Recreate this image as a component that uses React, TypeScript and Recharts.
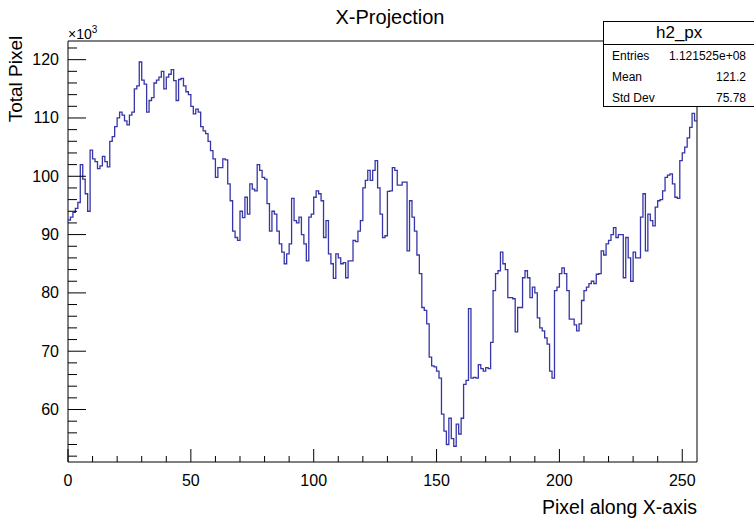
import React from "react";
import { LineChart, Line, XAxis, YAxis, ReferenceArea } from "recharts";

// bin contents of h2_px, in units of 10^3 (one value per pixel column 0..255)
const binValues = [
  92.5, 93, 93.8, 94.5, 95.5, 102, 99.5, 97, 94, 104.5,
  103, 102.5, 101.3, 101.8, 103.4, 102.5, 101.6, 106, 106.8, 108.5,
  110, 111, 110.5, 109.5, 108.8, 110.5, 111, 115, 115.5, 119.6,
  116.5, 115.8, 111, 113, 113.5, 116, 116.5, 117, 118, 115,
  117, 117.5, 118.3, 116.4, 113, 116.6, 116.8, 115.5, 114.5, 114,
  112, 110.7, 111.5, 111, 108.5, 107.8, 107.3, 106, 104.4, 103,
  99.8, 101.5, 101.5, 103, 102.8, 98.7, 95.8, 90.6, 89.5, 89,
  94, 92.9, 96.4, 93.5, 98.7, 97.8, 97.5, 102, 101, 99.8,
  99.5, 95.3, 90.6, 94, 93.5, 90.6, 88.4, 87, 85, 86.7,
  88.4, 96.2, 92.4, 92, 93, 90, 88.4, 85.5, 93, 93.5,
  96.4, 97.5, 97, 95.8, 89.5, 92.4, 86.7, 85, 82.5, 86.7,
  86, 85, 85.2, 82.6, 85.5, 85.5, 89, 88.8, 90.6, 92.4,
  98, 99.3, 101, 99.3, 101, 102.7, 98, 93.5, 89.5, 89.8,
  97.4, 97.5, 101.5, 101, 98.5, 98.5, 99, 99, 87.2, 95.8,
  93, 90.6, 86.5, 83.3, 77.5, 77, 74.7, 69, 67.5, 67.3,
  66.6, 65.4, 59.2, 56.3, 54, 58.5, 55, 53.7, 57.5, 55.8,
  58.5, 64.3, 65, 77.3, 65.4, 65.5, 65.4, 67.7, 67, 66.6,
  67.2, 67, 71.5, 80.4, 83.3, 83.8, 87, 85, 84, 79.2,
  79.2, 79, 73.3, 77.5, 77.5, 82.6, 83.8, 82.6, 79.2, 81,
  80, 75.7, 74, 73.5, 72.3, 71.2, 66.6, 65.4, 80.4, 81,
  83.3, 84.3, 83.3, 80.4, 75.5, 75.5, 74.5, 73.5, 74.7, 78.7,
  80.4, 81, 81.6, 82, 81.6, 83.2, 83.3, 87.2, 86.5, 88.4,
  89, 90, 91.2, 89.5, 90, 90, 82.6, 89.5, 86, 82,
  87, 86, 86, 93, 97, 87.2, 93.5, 92.4, 91.5, 94.7,
  95.8, 96, 97.5, 99.8, 100.2, 100.4, 98.7, 96.4, 96.2, 102.7,
  104, 105, 106.6, 108.4, 110.8, 109.5,
];

const xTicks = [0, 10, 20, 30, 40, 50, 60, 70, 80, 90, 100, 110, 120, 130, 140, 150, 160, 170, 180, 190, 200, 210, 220, 230, 240, 250];
const yTicks = [52, 54, 56, 58, 60, 62, 64, 66, 68, 70, 72, 74, 76, 78, 80, 82, 84, 86, 88, 90, 92, 94, 96, 98, 100, 102, 104, 106, 108, 110, 112, 114, 116, 118, 120, 122];

const statsRows = [
  ["Entries", "1.121525e+08"],
  ["Mean", "121.2"],
  ["Std Dev", "75.78"],
];

const X_MIN = 0;
const X_MAX = 256;
const Y_MIN = 51;
const Y_MAX = 123.2;

const FONT = "'Liberation Sans', Arial, sans-serif";
const LINE_COLOR = "#3636a8";

// histogram drawn as steps: each bin starts at its low edge, last point closes the final bin
const chartData = [
  ...binValues.map((v, i) => ({ x: i, v })),
  { x: binValues.length, v: binValues[binValues.length - 1] },
];

const YTick = (props: any) => {
  const { x, y, payload } = props;
  const major = payload.value % 10 === 0;
  return (
    <g>
      <line x1={x} x2={x + (major ? 18 : 9)} y1={y} y2={y} stroke="#000" />
      {major && (
        <text x={x - 9} y={y} dy={5.5} textAnchor="end" fontSize={16} fontFamily={FONT} fill="#000">
          {payload.value}
        </text>
      )}
    </g>
  );
};

const XTick = (props: any) => {
  const { x, y, payload } = props;
  const major = payload.value % 50 === 0;
  return (
    <g>
      <line x1={x} x2={x} y1={y} y2={y - (major ? 13 : 6)} stroke="#000" />
      {major && (
        <text x={x} y={y + 24} textAnchor="middle" fontSize={16} fontFamily={FONT} fill="#000">
          {payload.value}
        </text>
      )}
    </g>
  );
};

export default function App() {
  return (
    <div style={{ position: "absolute", left: 0, top: 0, width: 754, height: 522, background: "#fff", fontFamily: FONT, overflow: "hidden" }}>
      <LineChart width={754} height={522} data={chartData} margin={{ top: 41, right: 57, left: 0, bottom: 0 }}>
        <XAxis
          dataKey="x"
          type="number"
          domain={[X_MIN, X_MAX]}
          ticks={xTicks}
          interval={0}
          tick={<XTick />}
          tickSize={0}
          tickMargin={0}
          axisLine={false}
          tickLine={false}
          height={60}
          allowDataOverflow
        />
        <YAxis
          type="number"
          domain={[Y_MIN, Y_MAX]}
          ticks={yTicks}
          interval={0}
          tick={<YTick />}
          tickSize={0}
          tickMargin={0}
          axisLine={false}
          tickLine={false}
          width={68}
          allowDataOverflow
        />
        <ReferenceArea x1={X_MIN} x2={X_MAX} y1={Y_MIN} y2={Y_MAX} fill="none" stroke="#000" strokeWidth={1} />
        <Line
          type="stepAfter"
          dataKey="v"
          stroke={LINE_COLOR}
          strokeWidth={1.3}
          dot={false}
          isAnimationActive={false}
        />
      </LineChart>

      <div style={{ position: "absolute", left: 0, top: 6, width: 780, textAlign: "center", fontSize: 20 }}>X-Projection</div>
      <div style={{ position: "absolute", left: 68, top: 24, fontSize: 14 }}>
        ×10<sup style={{ fontSize: 10 }}>3</sup>
      </div>
      <div
        style={{
          position: "absolute",
          left: 16,
          top: 79,
          fontSize: 19,
          whiteSpace: "nowrap",
          transform: "translate(-50%, -50%) rotate(-90deg)",
        }}
      >
        Total Pixel
      </div>
      <div style={{ position: "absolute", right: 57, top: 496, fontSize: 19.5 }}>Pixel along X-axis</div>

      <div
        style={{
          position: "absolute",
          left: 603,
          top: 21,
          width: 155,
          height: 86,
          border: "1px solid #000",
          background: "#fff",
          boxSizing: "border-box",
        }}
      >
        <div style={{ height: 22, borderBottom: "1px solid #000", fontSize: 17, lineHeight: "22px", paddingLeft: 52 }}>
          h2_px
        </div>
        {statsRows.map(([k, v]) => (
          <div
            key={k}
            style={{ display: "flex", height: 21, alignItems: "center", fontSize: 12, paddingLeft: 8, width: 142, boxSizing: "border-box" }}
          >
            <span style={{ flex: 1 }}>{k}</span>
            <span>{v}</span>
          </div>
        ))}
      </div>
    </div>
  );
}
